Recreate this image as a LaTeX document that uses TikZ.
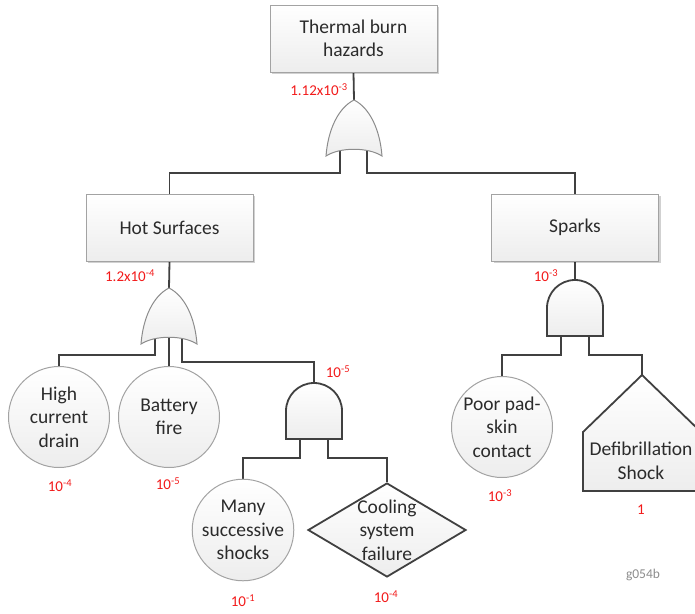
\documentclass[tikz,border=0pt]{standalone}
\usepackage{fontspec}
\setmainfont{Carlito}
\usetikzlibrary{shapes.geometric,shadows}

\definecolor{wirec}{HTML}{404040}
\definecolor{textc}{HTML}{2B2B2B}
\definecolor{boxline}{HTML}{A3A3A3}
\definecolor{orline}{HTML}{8C8C8C}
\definecolor{fillc}{HTML}{EDEDED}
\definecolor{probred}{HTML}{F21A1A}
\definecolor{tagc}{HTML}{8C8C8C}

\pgfdeclarelayer{bg}
\pgfsetlayers{bg,main}

\tikzset{
  lbl/.style={font=\fontsize{19.5}{23.5}\selectfont, text=textc, align=center},
  evtbox/.style={lbl, draw=boxline, line width=1pt, top color=white, bottom color=fillc,
    minimum width=167pt, minimum height=67pt, inner sep=0pt,
    drop shadow={shadow xshift=2pt, shadow yshift=-2pt, fill=black, opacity=.18}},
  basic/.style={lbl, circle, draw=boxline, line width=1pt, top color=white, bottom color=fillc,
    minimum size=101pt, inner sep=0pt},
  undev/.style={diamond, draw=wirec, line width=1.8pt, top color=white, bottom color=fillc,
    minimum width=158pt, minimum height=94pt, inner sep=0pt},
  wire/.style={draw=wirec, line width=1.8pt},
  orshape/.style={draw=orline, line width=1pt, top color=white, bottom color=fillc},
  andshape/.style={draw=wirec, line width=1.8pt, top color=white, bottom color=fillc},
  prob/.style={text=probred, font=\fontsize{15}{17}\selectfont, inner sep=0pt},
  orgate/.pic={
    \path[orshape] (0,0) .. controls (-16,8) and (-26,30) .. (-28,56)
      .. controls (-14,47) and (14,47) .. (28,56)
      .. controls (26,30) and (16,8) .. (0,0) -- cycle;
    \coordinate (-top) at (0,0);
    \coordinate (-l) at (-14,50);
    \coordinate (-m) at (0,48);
    \coordinate (-r) at (13,50);
  },
  andgate/.pic={
    \path[andshape] (-28,56) -- (-28,28) .. controls (-28,12.5) and (-15.5,0) .. (0,0)
      .. controls (15.5,0) and (28,12.5) .. (28,28) -- (28,56) -- cycle;
    \coordinate (-top) at (0,0);
    \coordinate (-l) at (-14,56);
    \coordinate (-r) at (14,56);
  }
}

\begin{document}
\begin{tikzpicture}[x=1pt, y=-1pt]
\useasboundingbox (0,0) rectangle (695,613);

% top event and intermediate events
\node[evtbox] (top) at (353.5,38.5) {Thermal burn\\hazards};
\node[evtbox] (hs) at (169.5,227.5) {Hot Surfaces};
\node[evtbox] (sp) at (575,227.5) {Sparks};

% gates
\pic (g0) at (354,100) {orgate};
\pic (g1) at (169,288) {orgate};
\pic (g2) at (314,383) {andgate};
\pic (g3) at (575,280) {andgate};

% basic and undeveloped events
\node[basic] (hcd) at (59,417) {High\\current\\drain};
\node[basic] (bf) at (169,417) {Battery\\fire};
\node[basic] (mss) at (243,530) {Many\\successive\\shocks};
\node[basic] (pps) at (502,427) {Poor pad-\\skin\\contact};
\node[undev] (csf) at (387,530) {};
\node[lbl] (csft) at (387,530) {Cooling\\system\\failure};

% house event (external event), runs off the right edge
\coordinate (ds) at (642,375);
\begin{scope}
  \clip (0,0) rectangle (695,613);
  \path[andshape] (ds) -- (701,432) -- (701,491) -- (583,491) -- (583,432) -- cycle;
\end{scope}
\node[lbl] (dst) at (641,461) {Defibrillation\\Shock};

% connectors
\begin{pgfonlayer}{bg}
  \draw[wire] (top.south) -- (g0-top);
  \draw[wire] (g0-l) -- (340,173) -| (hs.north);
  \draw[wire] (g0-r) -- (367,173) -| (sp.north);
  \draw[wire] (hs.south) -- (g1-top);
  \draw[wire] (g1-l) -- (155,355) -| (hcd.north);
  \draw[wire] (g1-m) -- (bf.north);
  \draw[wire] (g1-r) -- (182,362) -| (g2-top);
  \draw[wire] (g2-l) -- (300,458) -| (mss.north);
  \draw[wire] (g2-r) -- (328,458) -| (csf.north);
  \draw[wire] (sp.south) -- (g3-top);
  \draw[wire] (g3-l) -- (561,355) -| (pps.north);
  \draw[wire] (g3-r) -- (589,355) -| (ds);
\end{pgfonlayer}

% probabilities
\node[prob] (p0) at (319,90) {1.12x10\textsuperscript{-3}};
\node[prob] (p1) at (130,276) {1.2x10\textsuperscript{-4}};
\node[prob] (p2) at (546,276) {10\textsuperscript{-3}};
\node[prob] (p3) at (338,372) {10\textsuperscript{-5}};
\node[prob] (p4) at (60,486) {10\textsuperscript{-4}};
\node[prob] (p5) at (168,484) {10\textsuperscript{-5}};
\node[prob] (p6) at (243,601) {10\textsuperscript{-1}};
\node[prob] (p7) at (386,597) {10\textsuperscript{-4}};
\node[prob] (p8) at (500,496) {10\textsuperscript{-3}};
\node[prob] (p9) at (641,510) {1};

% figure tag
\node[text=tagc, font=\fontsize{13.5}{15}\selectfont] (tag) at (643,575) {g054b};
\end{tikzpicture}
\end{document}
